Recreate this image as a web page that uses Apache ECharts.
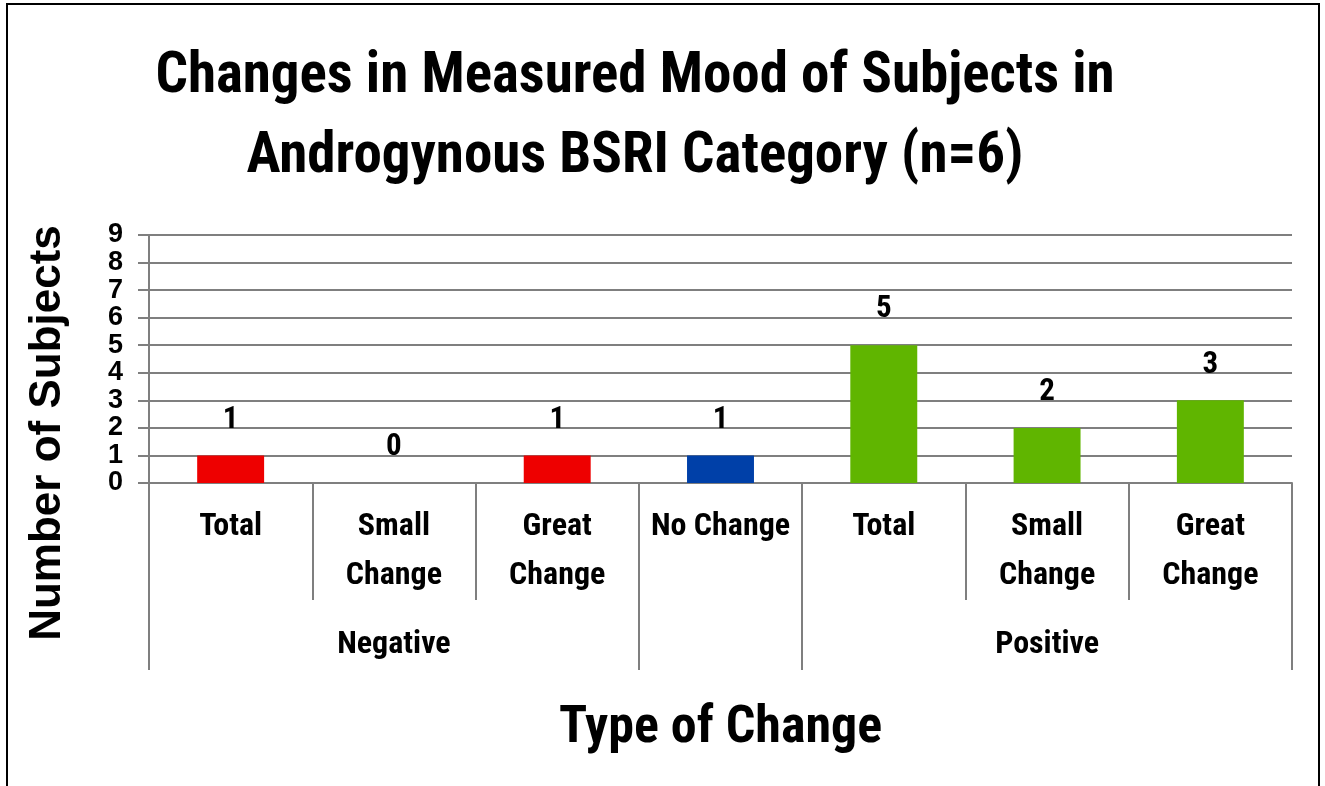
<!DOCTYPE html>
<html>
<head>
<meta charset="utf-8">
<script src="https://cdn.jsdelivr.net/npm/echarts@6/dist/echarts.min.js"></script>
<style>
  html, body { margin: 0; padding: 0; background: #fff; }
  #chart { width: 1325px; height: 786px; }
</style>
</head>
<body>
<div id="chart"></div>
<script>
// data
var categories = ['Total', 'Small\nChange', 'Great\nChange', 'No Change', 'Total', 'Small\nChange', 'Great\nChange'];
var groups = ['Negative', 'Negative', 'Negative', '', 'Positive', 'Positive', 'Positive'];
var counts = [1, 0, 1, 1, 5, 2, 3];
var yTicks = [0, 1, 2, 3, 4, 5, 6, 7, 8, 9];

var groupColors = { 'Negative': '#ee0000', '': '#0040a8', 'Positive': '#60b500' };

var narrow = "'Liberation Sans Narrow', 'Roboto Condensed', Roboto, sans-serif";
var wide = "'Liberation Sans', Arial, sans-serif";
var gray = '#7f7f7f';

// index of the middle category in each run of the same group
function groupMiddles() {
  var mids = {};
  var start = 0;
  for (var i = 1; i <= groups.length; i++) {
    if (i === groups.length || groups[i] !== groups[start]) {
      if (groups[start]) mids[Math.floor((start + i - 1) / 2)] = true;
      start = i;
    }
  }
  return mids;
}
// boundaries where a group starts
function groupStarts() {
  var s = {};
  for (var i = 0; i < groups.length; i++) {
    if (i === 0 || groups[i] !== groups[i - 1]) s[i] = true;
  }
  return s;
}
var mids = groupMiddles();
var starts = groupStarts();

var chart = echarts.init(document.getElementById('chart'));

var option = {
  backgroundColor: '#fff',
  animation: false,
  title: {
    text: 'Changes in Measured Mood of Subjects in\nAndrogynous BSRI Category (n=6)',
    left: 630,
    top: 33,
    textAlign: 'center',
    textStyle: {
      fontFamily: narrow,
      fontWeight: 'bold',
      fontSize: 57,
      lineHeight: 80,
      color: '#000'
    }
  },
  graphic: [
    {
      type: 'rect',
      z: -1,
      shape: { x: 7, y: 4, width: 1312, height: 800 },
      style: { fill: null, stroke: '#000', lineWidth: 2 }
    },
    {
      type: 'text',
      x: 48,
      y: 433,
      rotation: Math.PI / 2,
      style: {
        text: 'Number of Subjects',
        font: 'bold 44px ' + wide,
        fill: '#000',
        textAlign: 'center',
        textVerticalAlign: 'middle'
      }
    }
  ],
  grid: {
    left: 149,
    right: 33,
    top: 235,
    bottom: 303,
    containLabel: false
  },
  xAxis: [
    {
      type: 'category',
      data: categories,
      name: 'Type of Change',
      nameLocation: 'middle',
      nameGap: 220,
      nameTextStyle: {
        fontFamily: narrow,
        fontWeight: 'bold',
        fontSize: 52,
        color: '#000'
      },
      axisLine: { show: true, lineStyle: { color: gray, width: 2 } },
      axisTick: {
        show: true,
        interval: 0,
        length: 117,
        alignWithLabel: false,
        lineStyle: { color: gray, width: 2 }
      },
      axisLabel: {
        interval: 0,
        margin: 19,
        fontFamily: narrow,
        fontWeight: 'bold',
        fontSize: 32,
        lineHeight: 49,
        color: '#000',
        verticalAlign: 'top'
      }
    },
    {
      type: 'category',
      data: groups,
      position: 'bottom',
      axisLine: { show: false },
      axisTick: {
        show: true,
        length: 187,
        alignWithLabel: false,
        interval: function (i) { return !!starts[i]; },
        lineStyle: { color: gray, width: 2 }
      },
      axisLabel: {
        interval: function (i) { return !!mids[i]; },
        margin: 137,
        fontFamily: narrow,
        fontWeight: 'bold',
        fontSize: 32,
        lineHeight: 49,
        color: '#000',
        verticalAlign: 'top'
      },
      splitLine: { show: false }
    }
  ],
  yAxis: {
    type: 'value',
    min: yTicks[0],
    max: yTicks[yTicks.length - 1],
    interval: 1,
    axisLine: { show: true, lineStyle: { color: gray, width: 2 } },
    axisTick: { show: true, length: 11, lineStyle: { color: gray, width: 2 } },
    splitLine: { show: true, lineStyle: { color: gray, width: 2 } },
    axisLabel: {
      margin: 26,
      fontFamily: wide,
      fontWeight: 'bold',
      fontSize: 27,
      color: '#000'
    }
  },
  series: [{
    type: 'bar',
    xAxisIndex: 0,
    barWidth: '41%',
    data: counts.map(function (v, i) {
      return { value: v, itemStyle: { color: groupColors[groups[i]] } };
    }),
    label: {
      show: true,
      position: 'top',
      distance: 20,
      fontFamily: narrow,
      fontWeight: 'bold',
      fontSize: 31,
      color: '#000'
    }
  }]
};

chart.setOption(option);
</script>
</body>
</html>
